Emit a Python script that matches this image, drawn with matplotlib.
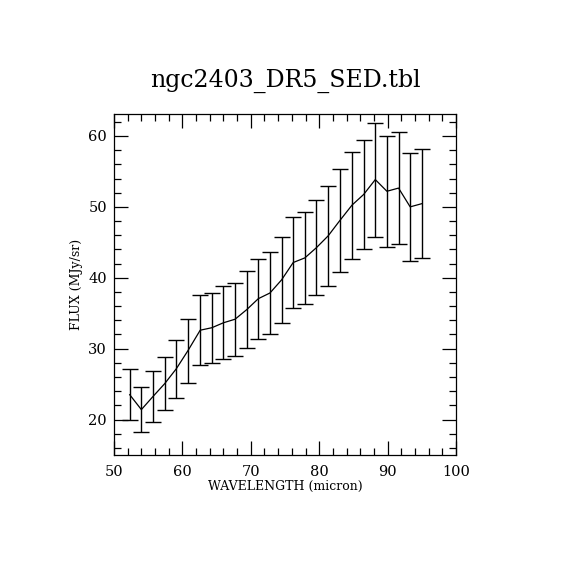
import matplotlib
matplotlib.use("Agg")
import matplotlib.pyplot as plt
from matplotlib.ticker import MultipleLocator

# valores
wavelength = [52.3, 54.0, 55.7, 57.4, 59.1, 60.8, 62.6, 64.3, 66.0, 67.7,
              69.4, 71.1, 72.8, 74.5, 76.2, 77.9, 79.6, 81.3, 83.0, 84.8,
              86.5, 88.2, 89.9, 91.6, 93.3, 95.0]
flux = [23.5, 21.4, 23.25, 25.05, 27.15, 29.7, 32.6, 32.95, 33.65, 34.15,
        35.5, 37.05, 37.85, 39.7, 42.15, 42.8, 44.25, 45.9, 48.05, 50.25,
        51.75, 53.85, 52.2, 52.65, 50.0, 50.45]
flux_err = [3.6, 3.2, 3.55, 3.75, 4.05, 4.5, 4.9, 4.95, 5.15, 5.15,
            5.4, 5.65, 5.8, 6.1, 6.45, 6.5, 6.75, 7.0, 7.25, 7.55,
            7.75, 8.05, 7.8, 7.85, 7.6, 7.65]

title = "ngc2403_DR5_SED.tbl"
x_label = "WAVELENGTH (micron)"
y_label = "FLUX (MJy/sr)"

plt.rcParams['font.family'] = ['DejaVu Serif']

fig = plt.figure(figsize=(5.7, 5.7), dpi=100)
ax = fig.add_axes([0.2, 0.2018, 0.6, 0.5982])

ax.errorbar(wavelength, flux, yerr=flux_err, color='black', linewidth=0.9,
            elinewidth=1.0, capsize=5.5, capthick=1.0)

ax.set_xlim(50, 100)
ax.set_ylim(15, 63.1)
ax.xaxis.set_major_locator(MultipleLocator(10))
ax.xaxis.set_minor_locator(MultipleLocator(2))
ax.yaxis.set_major_locator(MultipleLocator(10))
ax.yaxis.set_minor_locator(MultipleLocator(2))
ax.tick_params(which='both', direction='in', top=True, right=True,
               width=0.9, labelsize=10.5)
ax.tick_params(axis='x', pad=7)
ax.tick_params(axis='y', pad=5)
ax.tick_params(which='major', length=10)
ax.tick_params(which='minor', length=5)
for s in ax.spines.values():
    s.set_linewidth(0.9)

ax.set_xlabel(x_label, fontsize=9, labelpad=1)
ax.set_ylabel(y_label, fontsize=9, labelpad=4)
fig.text(0.5, 1 - 81 / 570, title, ha='center', va='center', fontsize=17)

fig.savefig("out.png", dpi=100)
